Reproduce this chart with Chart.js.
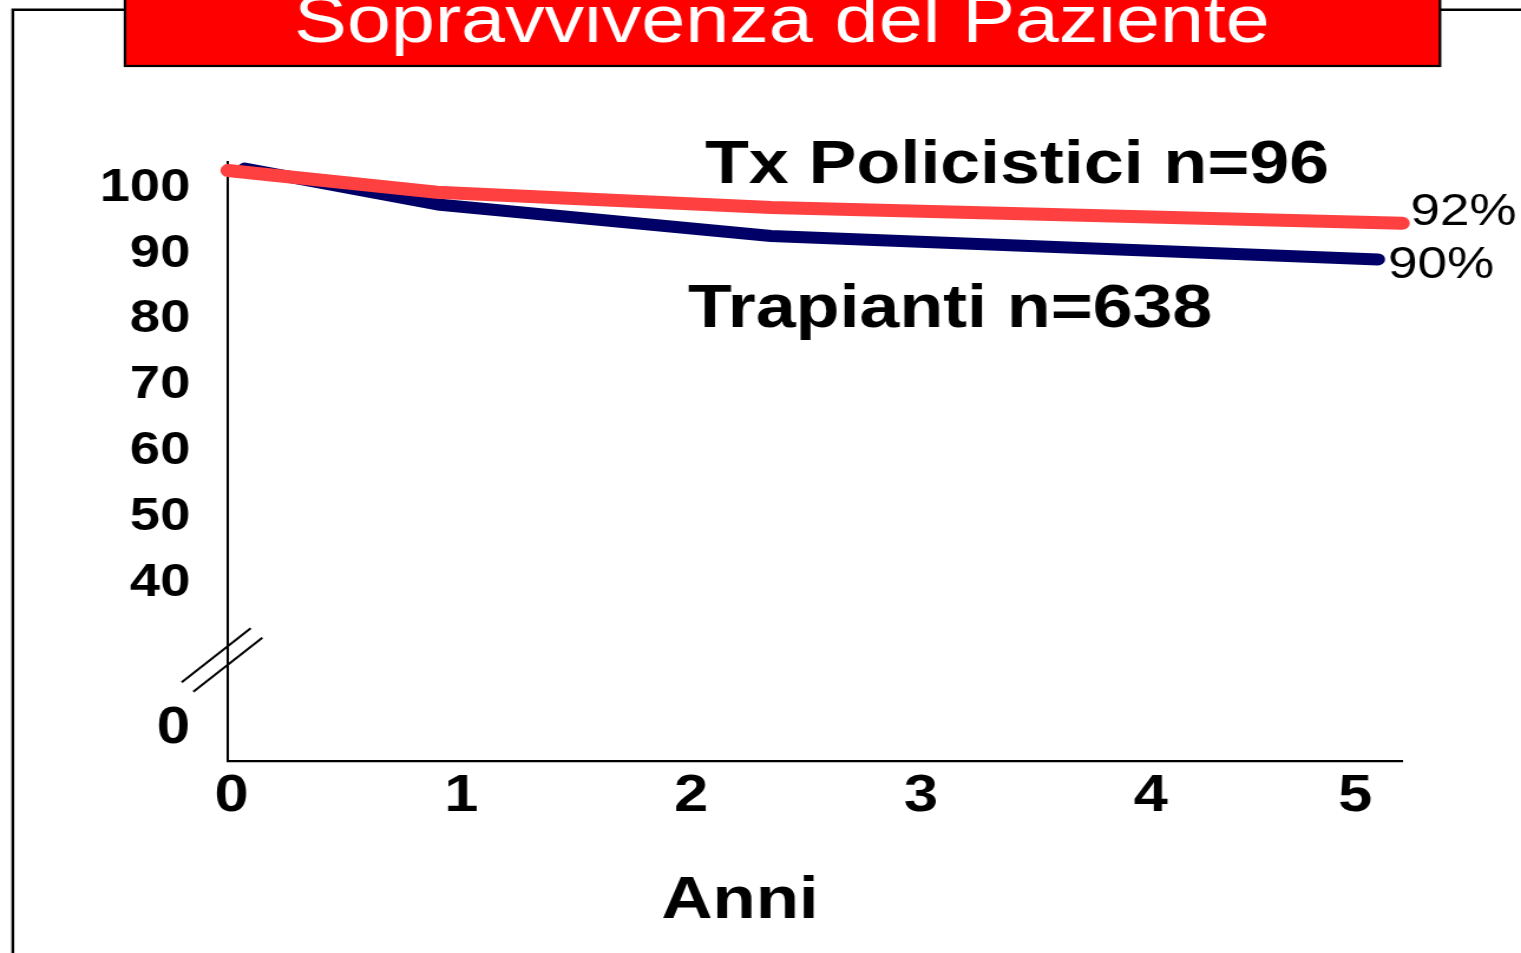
<!DOCTYPE html>
<html><head><meta charset="utf-8">
<script src="https://cdn.jsdelivr.net/npm/chart.js@4.4.1/dist/chart.umd.min.js"></script>
<style>
html,body{margin:0;padding:0;background:#fff;overflow:hidden;width:1521px;height:953px;}
#wrap{position:absolute;left:0;top:0;width:1289px;height:953px;transform:scaleX(1.18);transform-origin:0 0;}
canvas{display:block;}
</style></head><body>
<div id="wrap"><canvas id="c" width="1289" height="953"></canvas></div>
<script>
// ---- data ----
const titleText = 'Sopravvivenza del Paziente';
const seriesNames = ['Tx Policistici n=96', 'Trapianti n=638'];
const endLabels = ['92%', '90%'];
const xAxisTitle = 'Anni';
const yearsPoli = [-0.015, 0.894, 2.348, 5.094];
const survPoli  = [102.2, 98.9, 96.6, 94.2];
const yearsTx   = [0.058, 0.908, 2.348, 4.989];
const survTx    = [102.5, 97.0, 92.25, 88.7];
const xTickValues = [0, 1, 2, 3, 4, 4.89];
const xTickLabels = ['0', '1', '2', '3', '4', '5'];
const yTickValues = [17.8, 40, 50, 60, 70, 80, 90, 100];
const yTickLabels = ['0', '40', '50', '60', '70', '80', '90', '100'];
const yBreakValue = 28.6;

// ---- layout ----
const SX = 1.18, W = 1289, H = 953;
const FONT = "'Liberation Sans', Arial, Helvetica, sans-serif";

const deco = {
  id: 'deco',
  beforeDraw(chart) {
    const ctx = chart.ctx; ctx.save();
    ctx.fillStyle = '#fff'; ctx.fillRect(0, 0, W, H);
    ctx.strokeStyle = '#000'; ctx.lineWidth = 2.4;
    ctx.beginPath();
    ctx.moveTo(12.8 / SX, H + 5); ctx.lineTo(12.8 / SX, 9.7); ctx.lineTo(125 / SX, 9.7);
    ctx.moveTo(1440 / SX, 9.7); ctx.lineTo(W + 5, 9.7);
    ctx.stroke();
    ctx.fillStyle = '#FF0000';
    ctx.fillRect(125 / SX, -10, (1440 - 125) / SX, 76);
    ctx.lineWidth = 2.2;
    ctx.strokeRect(125 / SX, -10, (1440 - 125) / SX, 76);
    ctx.fillStyle = '#fff';
    ctx.font = '67px ' + FONT; ctx.textAlign = 'center'; ctx.textBaseline = 'alphabetic';
    ctx.fillText(titleText, 782 / SX, 42);
    ctx.restore();
  },
  afterDraw(chart) {
    const ctx = chart.ctx, xs = chart.scales.x, ys = chart.scales.y;
    ctx.save();
    ctx.fillStyle = '#000'; ctx.textBaseline = 'alphabetic';
    ctx.font = 'bold 60.8px ' + FONT; ctx.textAlign = 'left';
    ctx.fillText(seriesNames[0], 705 / SX, 183);
    ctx.fillText(seriesNames[1], 688 / SX, 327);
    ctx.font = 'bold 60px ' + FONT;
    ctx.textAlign = 'center';
    ctx.fillText(xAxisTitle, 740 / SX, 918);
    ctx.font = '45px ' + FONT; ctx.textAlign = 'left';
    const pL = yearsPoli.length - 1, tL = yearsTx.length - 1;
    ctx.fillText(endLabels[0], xs.getPixelForValue(yearsPoli[pL]) + 7, ys.getPixelForValue(survPoli[pL]) + 2);
    ctx.fillText(endLabels[1], xs.getPixelForValue(yearsTx[tL]) + 8.5, ys.getPixelForValue(survTx[tL]) + 19);
    // axis break marks
    const ax = xs.left, yc = ys.getPixelForValue(yBreakValue);
    ctx.strokeStyle = '#000'; ctx.lineWidth = 2;
    ctx.beginPath();
    ctx.moveTo(ax - 46.3 / SX, yc + 27.3); ctx.lineTo(ax + 22.7 / SX, yc - 26.7);
    ctx.moveTo(ax - 34.7 / SX, yc + 36.7); ctx.lineTo(ax + 34.3 / SX, yc - 17.3);
    ctx.stroke();
    ctx.restore();
  }
};

const toPts = (xs, ys) => xs.map((x, i) => ({ x: x, y: ys[i] }));

new Chart(document.getElementById('c'), {
  type: 'line',
  data: {
    datasets: [
      { label: seriesNames[0], data: toPts(yearsPoli, survPoli), borderColor: '#FF4040', borderWidth: 13,
        borderCapStyle: 'round', borderJoinStyle: 'round', pointRadius: 0, tension: 0, clip: false, fill: false },
      { label: seriesNames[1], data: toPts(yearsTx, survTx), borderColor: '#000066', borderWidth: 12,
        borderCapStyle: 'round', borderJoinStyle: 'round', pointRadius: 0, tension: 0, clip: false, fill: false }
    ]
  },
  options: {
    responsive: false, animation: false, devicePixelRatio: 1,
    layout: { padding: { left: 0, right: W - 1402 / SX, top: 162, bottom: 0 } },
    plugins: { legend: { display: false }, tooltip: { enabled: false }, title: { display: false } },
    scales: {
      x: {
        type: 'linear', min: -0.0152, max: 5.0935,
        afterBuildTicks: s => { s.ticks = xTickValues.map(v => ({ value: v })); },
        afterFit: s => { s.height = 953 - 761; },
        ticks: { callback: (v, i) => xTickLabels[i], autoSkip: false, maxRotation: 0, padding: 4,
                 color: '#000', font: { family: FONT, weight: 'bold', size: 52 } },
        grid: { display: false, drawTicks: false },
        border: { display: true, color: '#000', width: 2.3 }
      },
      y: {
        type: 'linear', min: 12.5, max: 103.5,
        afterBuildTicks: s => { s.ticks = yTickValues.map(v => ({ value: v })); },
        afterFit: s => { s.width = 228 / SX; },
        ticks: { callback: (v, i) => yTickLabels[i], autoSkip: false, padding: 32, labelOffset: 3, color: '#000',
                 font: c => ({ family: FONT, weight: 'bold', size: c.index === 0 ? 51 : 46 }) },
        grid: { display: false, drawTicks: false },
        border: { display: true, color: '#000', width: 2 }
      }
    }
  },
  plugins: [deco]
});
</script>
</body></html>
